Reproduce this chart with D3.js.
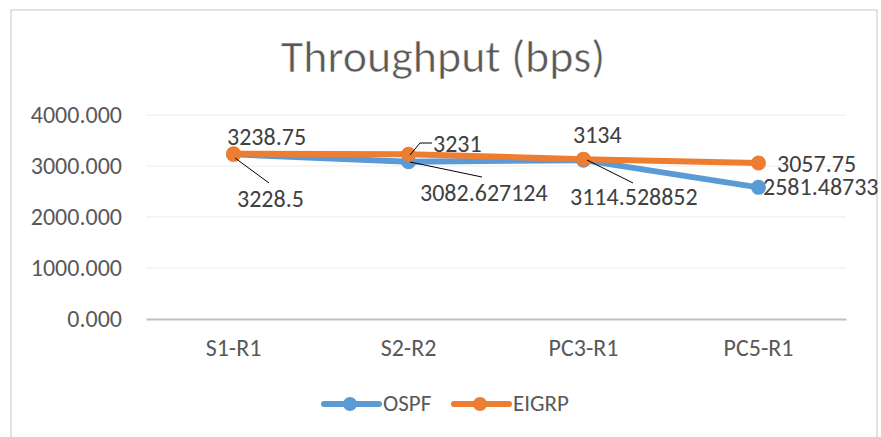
<!DOCTYPE html>
<html>
<head>
<meta charset="utf-8">
<script src="https://cdn.jsdelivr.net/npm/d3@7"></script>
<style>
  body { margin: 0; background: #fff; }
  svg { display: block; font-family: Calibri, Carlito, "Open Sans", sans-serif; }
</style>
</head>
<body>
<div id="chart"></div>
<script>
// chart data
const categories = ["S1-R1", "S2-R2", "PC3-R1", "PC5-R1"];
const ospf = [3228.5, 3082.627124, 3114.528852, 2581.48733];
const eigrp = [3238.75, 3231, 3134, 3057.75];
const yTicks = [0, 1000, 2000, 3000, 4000];
const seriesNames = ["OSPF", "EIGRP"];

// label placement: offset from the point, plus leader line points if any
const ospfLabelPos = [
  { dx: 3.5, dy: 53, lead: [[235, 158], [269, 183]] },
  { dx: 11.5, dy: 39, lead: [[410, 162], [482, 177]] },
  { dx: -13.5, dy: 45, lead: [[587, 160], [633, 183]] },
  { dx: 4.5, dy: 8 }
];
const eigrpLabelPos = [
  { dx: -6.5, dy: -9 },
  { dx: 24.5, dy: -2, lead: [[410, 155], [420, 143], [432, 143]] },
  { dx: -10.5, dy: -16 },
  { dx: 18.5, dy: 9 }
];

const width = 881, height = 437;
const colors = { OSPF: "#5b9bd5", EIGRP: "#ed7d31" };
const font = "Calibri, Carlito, 'Open Sans', sans-serif";

const svg = d3.select("#chart").append("svg")
  .attr("width", width)
  .attr("height", height);

// outer chart border
svg.append("rect")
  .attr("x", 11).attr("y", 10)
  .attr("width", 866).attr("height", 440)
  .attr("fill", "#fff")
  .attr("stroke", "#d9d9d9")
  .attr("stroke-width", 1.5);

const x = d3.scaleBand().domain(categories).range([146, 846]);
const y = d3.scaleLinear().domain([0, 4000]).range([319, 115]);
const cx = d => x(d) + x.bandwidth() / 2;

svg.append("text")
  .attr("x", 443).attr("y", 72)
  .attr("text-anchor", "middle")
  .attr("font-size", 46)
  .attr("fill", "#595959")
  .attr("stroke", "#fff")
  .attr("stroke-width", 0.6)
  .attr("paint-order", "normal")
  .text("Throughput (bps)");

// gridlines
svg.append("g")
  .selectAll("line")
  .data(yTicks.filter(t => t > 0))
  .join("line")
  .attr("x1", 146).attr("x2", 846)
  .attr("y1", d => y(d)).attr("y2", d => y(d))
  .attr("stroke", "#ececec")
  .attr("stroke-width", 1);

// y axis labels
const yAxis = svg.append("g")
  .attr("transform", "translate(128,0)")
  .call(d3.axisLeft(y).tickValues(yTicks).tickFormat(d3.format(".3f")).tickSize(0).tickPadding(6));
yAxis.select(".domain").remove();
yAxis.selectAll("text")
  .attr("font-size", 24)
  .attr("font-family", font)
  .attr("fill", "#595959");

// x axis
const xAxis = svg.append("g")
  .attr("transform", `translate(0,${y(0)})`)
  .call(d3.axisBottom(x).tickSize(0).tickPadding(20));
xAxis.select(".domain").attr("stroke", "#bfbfbf").attr("stroke-width", 2);
xAxis.selectAll("text")
  .attr("font-size", 24)
  .attr("font-family", font)
  .attr("fill", "#595959");

const line = d3.line()
  .x((d, i) => cx(categories[i]))
  .y(d => y(d));

const series = [
  { name: "OSPF", values: ospf, labels: ospfLabelPos },
  { name: "EIGRP", values: eigrp, labels: eigrpLabelPos }
];

series.forEach(s => {
  svg.append("path")
    .datum(s.values)
    .attr("fill", "none")
    .attr("stroke", colors[s.name])
    .attr("stroke-width", 6)
    .attr("stroke-linejoin", "round")
    .attr("d", line);

  svg.append("g")
    .selectAll("circle")
    .data(s.values)
    .join("circle")
    .attr("cx", (d, i) => cx(categories[i]))
    .attr("cy", d => y(d))
    .attr("r", 7.5)
    .attr("fill", colors[s.name]);
});

// data labels
series.forEach(s => {
  const g = svg.append("g");
  s.values.forEach((v, i) => {
    const px = cx(categories[i]), py = y(v);
    const p = s.labels[i];
    if (p.lead) {
      g.append("polyline")
        .attr("points", p.lead.map(q => q.join(",")).join(" "))
        .attr("fill", "none")
        .attr("stroke", "#000")
        .attr("stroke-width", 1);
    }
    g.append("text")
      .attr("x", px + p.dx)
      .attr("y", py + p.dy)
      .attr("font-size", 24)
      .attr("fill", "#404040")
      .text(v);
  });
});

// legend
const legend = svg.append("g").attr("transform", "translate(324,404)");
seriesNames.forEach((name, i) => {
  const lg = legend.append("g").attr("transform", `translate(${i * 130},0)`);
  lg.append("line")
    .attr("x1", 0).attr("x2", 55)
    .attr("stroke", colors[name])
    .attr("stroke-width", 6)
    .attr("stroke-linecap", "round");
  lg.append("circle")
    .attr("cx", 26).attr("r", 7)
    .attr("fill", colors[name]);
  lg.append("text")
    .attr("x", 59).attr("y", 7)
    .attr("font-size", 23)
    .attr("fill", "#595959")
    .text(name);
});
</script>
</body>
</html>
